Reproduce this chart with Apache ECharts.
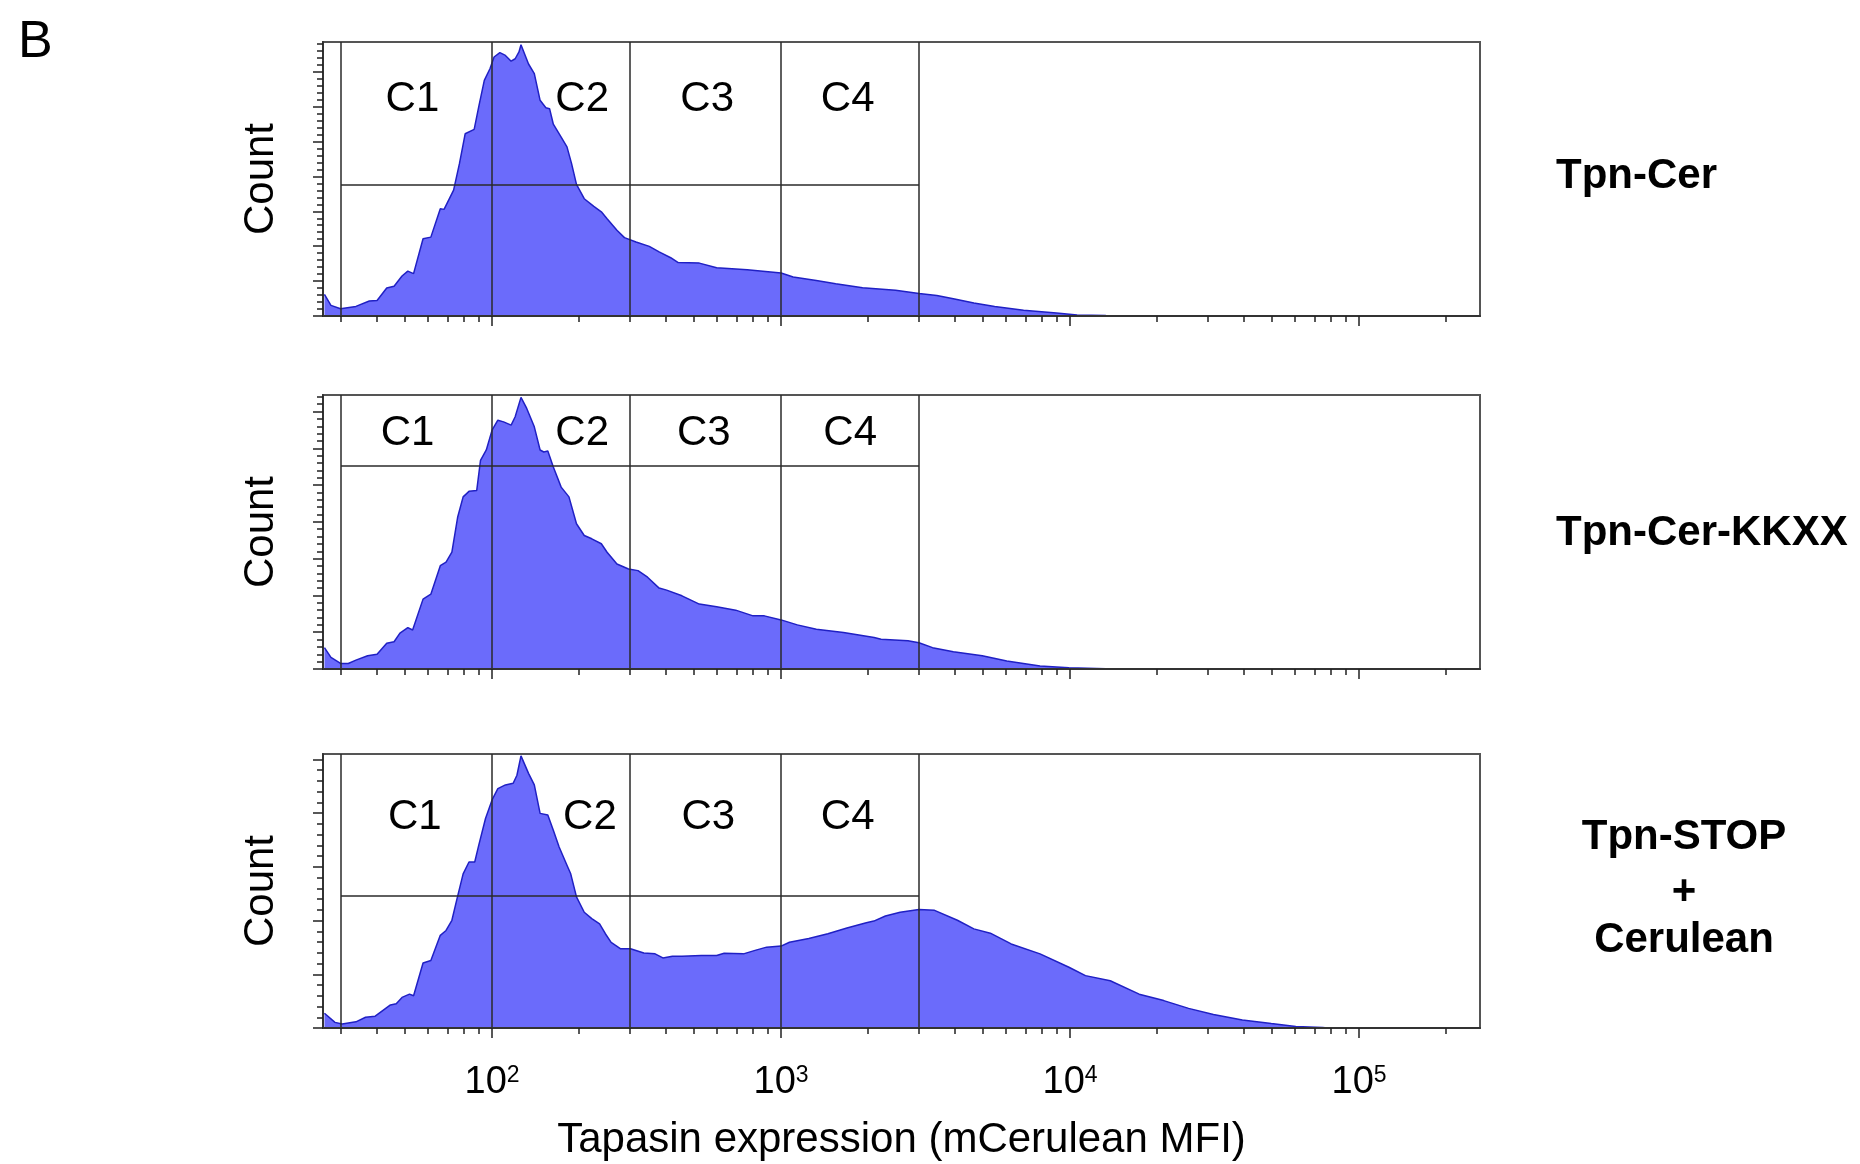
<!DOCTYPE html>
<html>
<head>
<meta charset="utf-8">
<title>Tapasin expression</title>
<script src="https://cdn.jsdelivr.net/npm/echarts@6/dist/echarts.min.js"></script>
<style>
  html, body { margin: 0; padding: 0; background: #fff; }
  #chart { width: 1860px; height: 1164px; }
</style>
</head>
<body>
<div id="chart"></div>
<script>
// histogram outlines: [mCerulean MFI, count]
const tpnCer = [[26.3, 12.4], [27.7, 6.1], [29.9, 4.2], [33.8, 5.5], [37.6, 8.6], [40, 8.9], [43.2, 16.0], [45.8, 17.0], [48.8, 22.9], [51.1, 25.7], [53.5, 24.3], [57.7, 44.3], [61.4, 45.2], [66.2, 61.5], [68.2, 61.1], [73.6, 72.1], [77.1, 87.3], [80.7, 104.4], [86.7, 106.9], [89.9, 119.8], [94, 135.0], [98.4, 141.8], [101.6, 148.4], [106.4, 150.9], [111.2, 149.3], [116.4, 146.0], [120.2, 147.4], [123.9, 151.3], [125.9, 155.4], [133.7, 144.4], [140, 138.9], [146.6, 123.6], [153.5, 119.3], [158.1, 118.8], [162.9, 109.9], [173.4, 102.5], [181.6, 96.9], [188.4, 87.3], [195.9, 75.4], [208.4, 67.2], [224.9, 62.8], [238.8, 59.7], [250, 55.7], [270.4, 49.1], [287.1, 44.9], [314.8, 42.4], [349.9, 39.9], [378.4, 36.7], [415, 33.4], [440.6, 30.6], [521.2, 30.3], [598.4, 27.6], [763.8, 26.5], [1000, 24.6], [1101, 22.3], [1324, 20.4], [1545, 18.5], [1914, 16.2], [2489, 14.8], [3000, 12.9], [3459, 11.8], [3945, 9.9], [4645, 7.4], [5483, 5.5], [6902, 3.3], [8974, 1.7], [10570, 0.6], [13300, 0.3], [15170, 0.2], [16000, 0]];

const tpnCerKkxx = [[26.3, 11.6], [27.7, 6.3], [29.9, 3.0], [31.8, 3.0], [33.8, 4.8], [37.1, 7.2], [40, 8.0], [43.2, 14.0], [45.8, 14.8], [48, 19.5], [51.1, 22.5], [53.1, 21.2], [57.7, 38.0], [61.4, 40.7], [66.2, 56.2], [69.3, 58.1], [72.6, 63.5], [76, 82.5], [79.4, 93.6], [83.2, 96.6], [88.5, 97.1], [91.2, 113.5], [95.5, 119.1], [100, 129.9], [104.7, 135.3], [109.6, 134.4], [116.4, 132.6], [120.2, 137.2], [125.9, 147.7], [131.8, 141.7], [140, 131.7], [146.6, 119.1], [151, 118.0], [155.9, 118.5], [162.9, 109.8], [173.4, 98.9], [184.5, 93.6], [195.9, 79.0], [208.4, 72.6], [221.3, 70.8], [238.8, 68.1], [250, 63.5], [270.4, 57.1], [296.5, 54.4], [319.9, 53.5], [345.1, 49.9], [378.4, 44.0], [401.8, 42.9], [453.9, 39.8], [521.2, 35.3], [598.4, 33.8], [696.6, 32.0], [799.8, 28.9], [875, 28.9], [1000, 26.7], [1138, 24.0], [1324, 21.6], [1644, 19.8], [2099, 17.1], [2218, 16.2], [2748, 15.3], [3000, 14.3], [3342, 11.6], [3945, 9.4], [4966, 7.2], [6039, 4.3], [7870, 1.6], [9908, 0.7], [13300, 0.15], [13800, 0]];

const tpnStopCer = [[26.3, 5.5], [28.6, 2.1], [30.3, 1.5], [33.8, 2.3], [36.5, 4.0], [39.4, 4.4], [44.5, 8.6], [46.6, 9.0], [48.8, 11.4], [51.8, 12.6], [53.5, 12.0], [57.7, 24.2], [61.4, 25.1], [66.2, 34.5], [69.3, 36.3], [72.6, 40.1], [75.9, 48.8], [79.4, 57.4], [83.2, 61.8], [87.1, 61.8], [89.9, 68.0], [94.9, 78.0], [100, 84.9], [104.7, 89.1], [111.2, 90.5], [118.3, 91.1], [121.9, 94.1], [125.9, 101.3], [133.7, 94.8], [140, 90.5], [146.6, 79.9], [155.9, 79.3], [162.9, 73.6], [170.6, 67.4], [181.6, 60.6], [187.1, 57.4], [195.9, 48.8], [208.4, 43.1], [221.3, 40.7], [235.5, 38.8], [246.6, 35.1], [258.2, 31.9], [278.6, 29.5], [301.3, 29.5], [334.9, 27.9], [366.4, 27.6], [389.9, 26.1], [420.7, 26.7], [453.9, 26.7], [529.6, 27.0], [598.4, 27.0], [635.3, 27.8], [741.3, 27.6], [812.8, 28.9], [891.3, 30.1], [1000, 30.5], [1069, 31.9], [1247, 33.3], [1452, 35.1], [1690, 37.2], [1972, 39.2], [2094, 39.8], [2296, 41.7], [2582, 43.1], [3000, 44.1], [3396, 43.8], [4074, 40.1], [4645, 36.9], [5297, 35.3], [6252, 31.3], [7870, 27.6], [9908, 22.6], [11300, 19.5], [13770, 17.6], [17340, 12.6], [21090, 10.2], [25700, 7.3], [31330, 5.0], [39450, 3.0], [49660, 1.7], [60390, 0.6], [74820, 0.2], [77600, 0]];

const panelData = [tpnCer, tpnCerKkxx, tpnStopCer];
const panelNames = [['Tpn-Cer'], ['Tpn-Cer-KKXX'], ['Tpn-STOP', '+', 'Cerulean']];
const countMax = [157, 149, 102];

// gates C1..C4
const gateNames = ['C1', 'C2', 'C3', 'C4'];
const gateEdges = [30, 100, 300, 1000, 3000];
const gateLevels = [75.4, 110.4, 49.1];
const gateLabelMfi = [[53, 205, 555, 1700], [51, 205, 540, 1734], [54, 218, 560, 1700]];
const gateLabelCount = [124, 128, 78.5];

// axes
const xMin = 26, xMax = 262000;
const xMajorTicks = [100, 1000, 10000, 100000];
const xTickExponents = ['2', '3', '4', '5'];
const xMinorTicks = [30, 40, 50, 60, 70, 80, 90, 200, 300, 400, 500, 600, 700, 800, 900,
  2000, 3000, 4000, 5000, 6000, 7000, 8000, 9000, 20000, 30000, 40000, 50000, 60000, 70000, 80000, 90000, 200000];
const xTitle = 'Tapasin expression (mCerulean MFI)';
const yTitle = 'Count';
const countMajorStep = 20, countMinorStep = 4;

const FONT = '"Liberation Sans", Arial, Helvetica, sans-serif';
const panelTop = [42, 395, 754];

const chart = echarts.init(document.getElementById('chart'));

let grid = [], xAxis = [], yAxis = [], series = [];

panelData.forEach((data, i) => {
  grid.push({
    left: 323, width: 1157, top: panelTop[i], height: 274,
    show: true, borderColor: '#555', borderWidth: 2, backgroundColor: '#fff'
  });

  const last = i === panelData.length - 1;
  xAxis.push({
    type: 'log', gridIndex: i, min: xMin, max: xMax, position: 'bottom', z: 5,
    axisLine: { show: true, lineStyle: { color: '#333', width: 2 } },
    axisTick: { show: true, customValues: xMajorTicks, length: 10, lineStyle: { color: '#222', width: 1.5 } },
    axisLabel: last ? {
      show: true, customValues: xMajorTicks, margin: 36,
      formatter: v => '{b|10}{s|' + xTickExponents[xMajorTicks.indexOf(Math.round(v))] + '}',
      rich: {
        b: { fontSize: 38, fontFamily: FONT, color: '#000' },
        s: { fontSize: 23, fontFamily: FONT, color: '#000', verticalAlign: 'top' }
      }
    } : { show: false },
    splitLine: { show: false },
    name: last ? xTitle : '', nameLocation: 'middle', nameGap: 91,
    nameTextStyle: { fontSize: 42, fontFamily: FONT, color: '#000' }
  });
  xAxis.push({
    type: 'log', gridIndex: i, min: xMin, max: xMax, position: 'bottom', z: 5,
    axisLine: { show: false },
    axisTick: { show: true, customValues: xMinorTicks, length: 6, lineStyle: { color: '#222', width: 1.5 } },
    axisLabel: { show: false }, splitLine: { show: false }
  });

  let majors = [], minors = [];
  for (let v = 0; v <= countMax[i]; v += countMinorStep) {
    if (v % countMajorStep === 0) majors.push(v); else minors.push(v);
  }
  yAxis.push({
    type: 'value', gridIndex: i, min: 0, max: countMax[i], position: 'left', z: 5,
    axisLine: { show: true, lineStyle: { color: '#333', width: 2 } },
    axisTick: { show: true, customValues: majors, length: 10, lineStyle: { color: '#222', width: 1.5 } },
    axisLabel: { show: false }, splitLine: { show: false },
    name: yTitle, nameLocation: 'middle', nameGap: 41,
    nameTextStyle: { fontSize: 42, fontFamily: FONT, color: '#000' }
  });
  yAxis.push({
    type: 'value', gridIndex: i, min: 0, max: countMax[i], position: 'left', z: 5,
    axisLine: { show: false },
    axisTick: { show: true, customValues: minors, length: 6, lineStyle: { color: '#222', width: 1.5 } },
    axisLabel: { show: false }, splitLine: { show: false }
  });

  let gateLines = gateEdges.map(e => [{ coord: [e, 0] }, { coord: [e, countMax[i]] }]);
  gateLines.push([{ coord: [gateEdges[0], gateLevels[i]] }, { coord: [gateEdges[gateEdges.length - 1], gateLevels[i]] }]);

  series.push({
    type: 'line', xAxisIndex: 2 * i, yAxisIndex: 2 * i, data: data,
    showSymbol: false, symbol: 'none', z: 2,
    lineStyle: { color: '#2020c4', width: 1.5 },
    areaStyle: { color: '#6b6bfb', opacity: 1 },
    emphasis: { disabled: true },
    markLine: {
      silent: true, symbol: 'none', animation: false,
      label: { show: false }, emphasis: { disabled: true },
      lineStyle: { color: '#2a2a2a', width: 1.5, type: 'solid' },
      data: gateLines
    }
  });
  series.push({
    type: 'scatter', xAxisIndex: 2 * i, yAxisIndex: 2 * i, symbolSize: 0, z: 4, silent: true,
    itemStyle: { opacity: 1 },
    emphasis: { disabled: true },
    data: gateNames.map((n, k) => ({ name: n, value: [gateLabelMfi[i][k], gateLabelCount[i]] })),
    label: {
      show: true, position: 'inside', formatter: p => p.name, opacity: 1,
      fontSize: 42, fontFamily: FONT, color: '#000', textBorderWidth: 0
    }
  });
});

const boldText = { fontSize: 42, fontWeight: 'bold', fontFamily: FONT, fill: '#000' };
const graphic = [
  { type: 'text', x: 18, y: 43, style: { text: 'B', fontSize: 52, fontFamily: FONT, fill: '#000', align: 'left', verticalAlign: 'middle' } },
  { type: 'text', x: 1556, y: 176, style: Object.assign({ text: panelNames[0][0], align: 'left', verticalAlign: 'middle' }, boldText) },
  { type: 'text', x: 1556, y: 533, style: Object.assign({ text: panelNames[1][0], align: 'left', verticalAlign: 'middle' }, boldText) },
  { type: 'text', x: 1684, y: 837, style: Object.assign({ text: panelNames[2][0], align: 'center', verticalAlign: 'middle' }, boldText) },
  { type: 'text', x: 1684, y: 892, style: Object.assign({ text: panelNames[2][1], align: 'center', verticalAlign: 'middle' }, boldText) },
  { type: 'text', x: 1684, y: 940, style: Object.assign({ text: panelNames[2][2], align: 'center', verticalAlign: 'middle' }, boldText) }
];

chart.setOption({
  animation: false,
  backgroundColor: '#fff',
  grid: grid,
  xAxis: xAxis,
  yAxis: yAxis,
  series: series,
  graphic: graphic
});

window.addEventListener('resize', () => {
  chart.resize();
});
</script>
</body>
</html>
